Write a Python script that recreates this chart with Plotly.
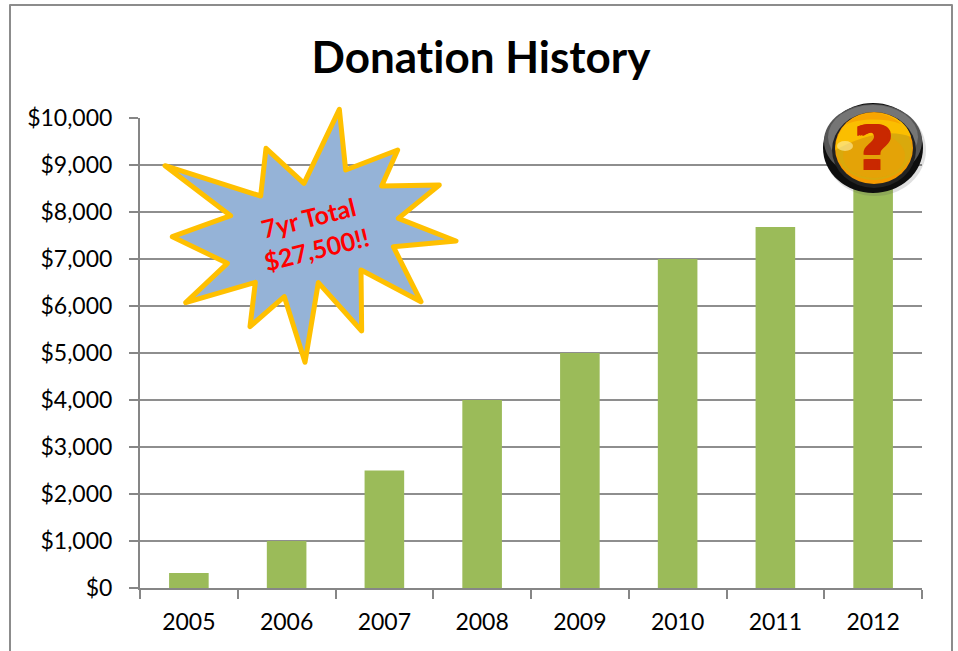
import plotly.graph_objects as go

years = ["2005", "2006", "2007", "2008", "2009", "2010", "2011", "2012"]
donations = [320, 1000, 2500, 4000, 5000, 7000, 7680, 9000]
y_ticks = list(range(0, 10001, 1000))
burst_px = [(45,197),(332,288),(348,145),(462,250),(568,28),(587,210),(743,150),(695,258),
            (868,255),(745,355),(918,423),(730,440),(813,605),(633,510),(635,693),(505,548),
            (465,787),(403,590),(300,680),(316,547),(107,608),(232,490),(67,410),(242,347)]

W, H = 958, 651
L, R, T, B = 140, 922, 118, 588
FONT = "Lato, Carlito, Calibri, sans-serif"
Q_RED = "#C92800"

def px(x):
    return (x - L) / (R - L)

def py(y):
    return (B - y) / (B - T)

def ellipse(cx, cy, rx, ry, fill, opacity=1.0):
    return dict(type="circle", xref="paper", yref="paper", x0=px(cx - rx), x1=px(cx + rx),
                y0=py(cy + ry), y1=py(cy - ry), fillcolor=fill, opacity=opacity,
                line=dict(width=0), layer="above")

def curve(fill, d, opacity=1.0):
    # d: list of (command, [(x, y), ...]) in pixels
    parts = []
    for cmd, pts in d:
        parts.append(cmd + " " + " ".join(f"{px(a):.5f},{py(b):.5f}" for a, b in pts))
    return dict(type="path", xref="paper", yref="paper", path=" ".join(parts) + " Z", fillcolor=fill,
                opacity=opacity, line=dict(width=0), layer="above")

fig = go.Figure(go.Bar(x=years, y=donations, width=0.405, marker=dict(color="#9BBB59", line=dict(width=0))))

points = [(150 + a / 3, 100 + b / 3) for a, b in burst_px]
path = "M " + " L ".join(f"{px(a):.5f},{py(b):.5f}" for a, b in points) + " Z"

shapes = [
    dict(type="path", xref="paper", yref="paper",
         path=f"M {px(10):.5f},{py(660):.5f} L {px(10):.5f},{py(5):.5f} L {px(952):.5f},{py(5):.5f} L {px(952):.5f},{py(660):.5f}",
         line=dict(color="#8C8C8C", width=2), layer="below"),
    dict(type="path", xref="paper", yref="paper", path=path, fillcolor="#95B3D7",
         line=dict(color="#FFC000", width=5), layer="above"),
    # button: soft shadow, rim, face
    ellipse(875, 150, 51, 46, "#555555", 0.18),
    ellipse(873, 148, 50, 45, "#0E0E0E"),
    ellipse(873, 141, 49, 37, "#555555"),
    ellipse(873, 137, 45, 32, "#757575"),
    ellipse(874, 150, 42, 38, "#222222"),
    ellipse(874, 148, 39, 36, "#F59A00"),
    ellipse(874, 149, 38, 31, "#D9A90C"),
    ellipse(874, 156, 31, 22, "#E6A106", 0.8),
    curve("#FBBE00", [("M", [(835.5, 150)]),
                      ("C", [(836, 128), (852, 113), (874, 113)]),
                      ("C", [(894, 113), (908, 124), (911, 137)]),
                      ("C", [(890, 128), (860, 136), (835.5, 150)])]),
    curve("#F8A500", [("M", [(845, 125)]),
                      ("C", [(852, 117), (864, 113), (874, 113)]),
                      ("C", [(884, 113), (894, 117), (901, 124)]),
                      ("C", [(885, 118), (860, 118), (845, 125)])]),
    ellipse(845, 146, 8, 5, "#FFF2A8", 0.6),
]

fig.update_layout(
    width=W, height=H, autosize=False,
    margin=dict(l=L, r=W - R, t=T, b=H - B),
    paper_bgcolor="white", plot_bgcolor="white",
    font=dict(family=FONT, color="black", size=23),
    showlegend=False, bargap=0.6,
    title=dict(text="<b>Donation History</b>", x=481 / W, xanchor="center", y=1 - 58 / H, yanchor="middle",
               font=dict(size=44, family=FONT, color="black")),
    xaxis=dict(type="category", tickson="boundaries", ticks="outside", ticklen=9, tickwidth=2,
               tickcolor="#868686", linecolor="#868686", linewidth=2, showgrid=False, showline=True,
               ticklabelstandoff=12, tickfont=dict(size=23, family=FONT)),
    yaxis=dict(range=[0, 10000], tickvals=y_ticks, tickformat="$,d", ticks="outside", ticklen=9, tickwidth=2,
               tickcolor="#868686", linecolor="#868686", linewidth=2, showline=True,
               gridcolor="#8E8E8E", gridwidth=2, zeroline=False, ticklabelstandoff=12,
               tickfont=dict(size=23, family=FONT)),
    shapes=shapes,
    annotations=[
        dict(text="<b>7yr Total<br>$27,500!!</b>", xref="paper", yref="paper", x=px(312), y=py(233),
             xanchor="center", yanchor="middle", showarrow=False, textangle=-14, align="center",
             font=dict(size=25, color="#FF0000", family=FONT)),
        dict(text="<b>?</b>", xref="paper", yref="paper", x=px(874), y=py(148),
             xanchor="center", yanchor="middle", showarrow=False,
             font=dict(size=62, color=Q_RED, family="DejaVu Sans, Liberation Sans, sans-serif",
                       shadow=f"2px 0 0 {Q_RED}, -2px 0 0 {Q_RED}, 3px 0 0 {Q_RED}, -3px 0 0 {Q_RED}")),
    ],
)

page_fix = """
document.body.style.margin = '0';
var st = document.createElement('style');
st.textContent = 'text{font-variant-ligatures:none !important} .shapelayer path{stroke-linejoin:round}';
document.head.appendChild(st);
"""
fig.write_html("out.html", post_script=page_fix, config=dict(displayModeBar=False))
